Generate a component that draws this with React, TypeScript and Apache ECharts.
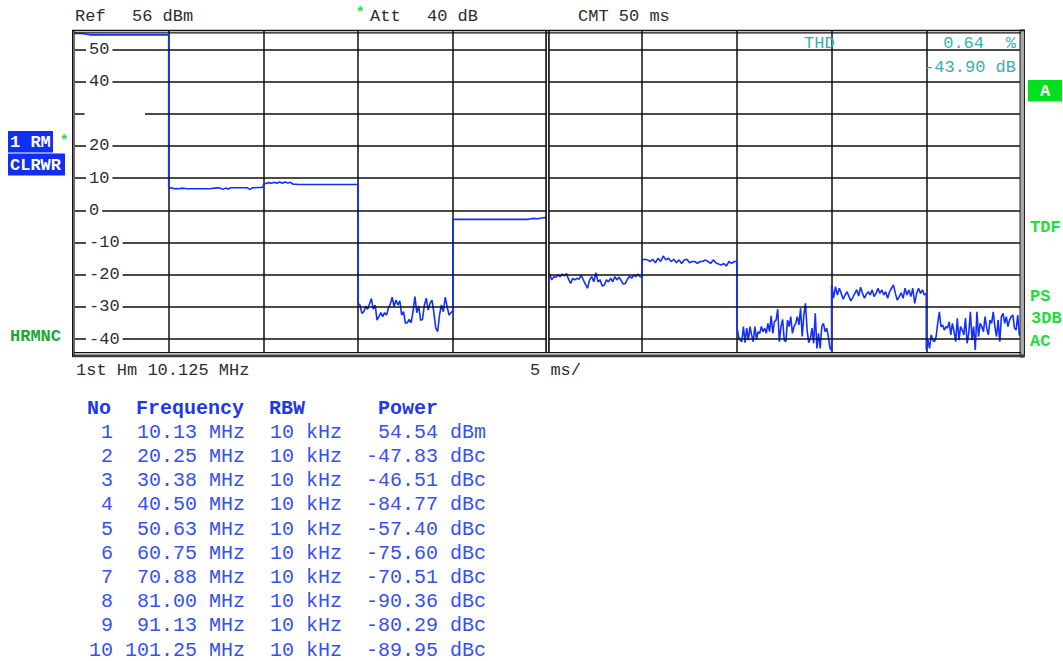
import React, { useEffect, useRef } from "react";
import * as echarts from "echarts";

// ---------- data ----------
const SEG_MS = 5; // each harmonic occupies one 5 ms division
const xTickInterval = 5;
const xMin = 0;
const xMax = 50;
const yMin = -44;
const yMax = 56;

const yGridValues = [50, 40, 30, 20, 10, 0, -10, -20, -30, -40];
const yLabelValues = [50, 40, 20, 10, 0, -10, -20, -30, -40];

// trace level (dBm) for each harmonic segment
const seg1 = [54.9, 54.9, 54.5, 54.5, 54.5, 54.5, 54.5, 54.5, 54.5, 54.5, 54.5, 54.5, 54.5];
const seg2 = [6.8, 7.0, 6.7, 6.8, 6.7, 6.9, 6.8, 6.7, 6.7, 6.7, 6.7, 6.7, 6.7, 6.7, 6.7, 6.7, 6.8, 6.9, 7.0, 6.9, 6.5, 6.9, 6.6, 7.0, 7.0, 7.0, 7.0, 7.0, 7.0, 7.0, 6.5, 7.0, 7.0, 7.1, 7.1, 7.2];
const seg3 = [8.0, 8.4, 8.6, 8.4, 8.7, 8.4, 8.8, 8.4, 8.8, 8.5, 8.7, 8.1, 8.1, 8.0, 8.0, 8.0, 8.0, 8.0, 8.0, 8.0, 8.0, 8.0, 8.0, 8.0, 8.0, 8.0, 8.0, 8.0, 8.0, 8.0, 8.0, 8.0, 8.0, 8.0, 8.0, 8.0];
const seg4 = [-28.9, -29.4, -32.0, -31.5, -29.9, -30.7, -29.1, -27.4, -30.7, -29.4, -34.1, -33.0, -31.8, -33.0, -31.8, -32.5, -30.4, -29.1, -27.0, -29.9, -27.9, -29.4, -28.1, -32.5, -31.5, -35.1, -34.9, -33.9, -34.9, -31.5, -26.8, -31.8, -29.7, -34.1, -33.9, -29.4, -27.3, -31.0, -28.9, -27.9, -31.8, -36.6, -37.7, -32.5, -29.4, -31.5, -27.0, -29.9, -32.5, -31.8, -31.2];
const seg5 = [-2.8, -2.8, -2.8, -2.8, -2.8, -2.8, -2.8, -2.8, -2.8, -2.8, -2.8, -2.8, -2.8, -2.8, -2.8, -2.8, -2.8, -2.5, -2.6, -2.3, -2.2];
const seg6 = [-20.1, -19.8, -21.6, -20.6, -20.8, -20.1, -20.6, -19.8, -20.4, -19.6, -21.4, -22.7, -21.1, -21.6, -21.1, -21.4, -20.1, -21.6, -22.9, -24.2, -21.6, -20.6, -22.2, -19.4, -22.2, -21.6, -23.5, -23.2, -21.6, -22.2, -21.1, -22.2, -20.6, -21.6, -20.8, -21.8, -22.9, -22.7, -21.4, -20.4, -21.1, -20.1, -20.6, -19.8, -20.6, -20.8];
const seg7 = [-15.4, -15.2, -15.4, -15.9, -15.2, -16.3, -14.9, -15.9, -14.2, -15.4, -14.9, -15.9, -15.2, -16.3, -15.4, -16.5, -15.4, -15.2, -16.3, -15.9, -15.9, -16.5, -15.9, -15.9, -15.4, -15.9, -16.5, -15.4, -16.3, -16.7, -17.0, -16.5, -17.3, -15.9, -16.5, -15.9, -15.9];
const seg8 = [-36.1, -39.2, -40.3, -40.8, -36.1, -41.1, -36.6, -40.3, -36.1, -38.7, -40.8, -36.1, -40.1, -37.7, -38.2, -36.1, -37.7, -36.6, -38.2, -35.1, -37.7, -32.8, -38.2, -34.6, -34.1, -30.7, -40.8, -36.1, -33.9, -40.3, -40.8, -34.1, -36.1, -33.0, -38.2, -36.1, -35.1, -33.0, -35.6, -30.4, -39.2, -32.5, -28.9, -37.2, -41.1, -39.8, -36.6, -41.3, -32.0, -42.9, -38.2, -42.9, -36.1, -35.1, -37.7, -36.6, -39.2, -42.9, -43.4];
const seg9 = [-23.2, -27.3, -23.7, -26.3, -24.2, -25.8, -27.6, -26.3, -25.3, -26.8, -28.1, -27.0, -25.8, -24.7, -26.6, -23.9, -25.8, -27.3, -26.0, -25.3, -26.3, -24.7, -26.8, -25.8, -24.2, -25.8, -24.7, -26.3, -25.3, -27.3, -25.3, -24.2, -23.2, -25.8, -27.9, -26.8, -25.6, -27.3, -24.2, -26.3, -24.7, -26.8, -24.2, -28.9, -25.8, -24.2, -25.8, -24.7, -26.3, -25.8];
const seg10 = [-43.4, -40.3, -42.9, -38.7, -40.3, -40.8, -39.2, -35.1, -31.5, -36.1, -35.6, -37.2, -36.1, -36.6, -34.6, -38.7, -35.1, -37.7, -40.8, -33.5, -40.3, -36.1, -37.2, -38.7, -33.5, -41.3, -38.2, -31.5, -40.3, -36.1, -43.4, -31.5, -39.2, -35.1, -36.1, -37.7, -33.0, -36.6, -38.7, -34.1, -35.1, -31.5, -36.1, -39.2, -34.1, -40.8, -33.0, -32.0, -35.1, -33.0, -36.1, -34.1, -33.0, -32.5, -36.6, -37.2, -32.5, -38.7, -39.2];
const segments = [seg1, seg2, seg3, seg4, seg5, seg6, seg7, seg8, seg9, seg10];

// harmonic table
const harmonicNo = ["1", "2", "3", "4", "5", "6", "7", "8", "9", "10"];
const harmonicFreq = ["10.13", "20.25", "30.38", "40.50", "50.63", "60.75", "70.88", "81.00", "91.13", "101.25"];
const harmonicRbw = ["10 kHz", "10 kHz", "10 kHz", "10 kHz", "10 kHz", "10 kHz", "10 kHz", "10 kHz", "10 kHz", "10 kHz"];
const harmonicPower = ["54.54", "-47.83", "-46.51", "-84.77", "-57.40", "-75.60", "-70.51", "-90.36", "-80.29", "-89.95"];
const harmonicUnit = ["dBm", "dBc", "dBc", "dBc", "dBc", "dBc", "dBc", "dBc", "dBc", "dBc"];
const tableHeader = ["No", "Frequency", "RBW", "Power"];

// ---------- styles ----------
const MONO = "'Liberation Mono', 'DejaVu Sans Mono', monospace";
const GRAY_TXT = "#2e2e2e";
const TEAL = "#3aaeae";
const BLUE_TABLE = "#3650f2";
const BLUE_HEAD = "#1f38e8";
const GREEN = "#22dd3a";
const GREEN_DARK = "#1aa832";
const BLUE_BOX = "#0f2ff2";

function txt(x: number, y: number, text: string, o: any = {}) {
  return {
    type: "text",
    x,
    y,
    z: 100,
    silent: true,
    style: {
      text,
      fill: o.fill ?? GRAY_TXT,
      fontFamily: MONO,
      fontSize: o.size ?? 17,
      fontWeight: o.bold ? "bold" : "normal",
      textAlign: o.align ?? "left",
      align: o.align ?? "left",
      textVerticalAlign: "middle",
      verticalAlign: "middle",
    },
  };
}
function line(x1: number, y1: number, x2: number, y2: number, stroke: string, lineWidth: number) {
  return { type: "line", z: 100, silent: true, shape: { x1, y1, x2, y2 }, style: { stroke, lineWidth } };
}
function rect(x: number, y: number, width: number, height: number, fill: string, stroke?: string) {
  return {
    type: "rect",
    z: 99,
    silent: true,
    shape: { x, y, width, height },
    style: stroke ? { fill, stroke, lineWidth: 1 } : { fill },
  };
}

export default function App() {
  const ref = useRef<HTMLDivElement>(null);

  useEffect(() => {
    if (!ref.current) return;
    const chart = echarts.init(ref.current, undefined, { renderer: "svg" });

    const trace: number[][] = [];
    segments.forEach((vals, k) => {
      const n = vals.length;
      vals.forEach((v, i) => trace.push([k * SEG_MS + (i * SEG_MS) / (n - 1), v]));
    });

    const graphic: any[] = [];
    // header texts
    graphic.push(txt(75, 16, "Ref"));
    graphic.push(txt(132, 16, "56 dBm"));
    graphic.push(txt(356, 13, "*", { fill: GREEN, size: 14, bold: true }));
    graphic.push(txt(370, 16, "Att"));
    graphic.push(txt(427, 16, "40 dB"));
    graphic.push(txt(578, 16, "CMT 50 ms"));
    // bottom of diagram
    graphic.push(txt(76, 370, "1st Hm 10.125 MHz"));
    graphic.push(txt(530, 370, "5 ms/"));
    // THD readout
    graphic.push(txt(804, 43, "THD", { fill: TEAL }));
    graphic.push(txt(984, 43, "0.64", { fill: TEAL, align: "right" }));
    graphic.push(txt(1016, 43, "%", { fill: TEAL, align: "right" }));
    graphic.push(txt(1016, 67, "-43.90 dB", { fill: TEAL, align: "right" }));
    // left side labels
    graphic.push(rect(8, 131, 45, 21.5, BLUE_BOX));
    graphic.push(txt(10, 142, "1 RM", { fill: "#fff", bold: true, size: 17 }));
    graphic.push(txt(60, 141, "*", { fill: GREEN, bold: true, size: 14 }));
    graphic.push(rect(8, 153.5, 57, 22, BLUE_BOX));
    graphic.push(txt(10, 165, "CLRWR", { fill: "#fff", bold: true, size: 17 }));
    graphic.push(txt(10, 336, "HRMNC", { fill: GREEN_DARK, bold: true, size: 17 }));
    // right side labels
    graphic.push(rect(1028, 80, 34, 21.5, "#00e01e"));
    graphic.push(txt(1045, 91, "A", { fill: "#fff", bold: true, size: 17, align: "center" }));
    graphic.push(txt(1030, 227, "TDF", { fill: GREEN, bold: true, size: 17 }));
    graphic.push(txt(1030, 296, "PS", { fill: GREEN, bold: true, size: 17 }));
    graphic.push(txt(1031, 318, "3DB", { fill: GREEN, bold: true, size: 17 }));
    graphic.push(txt(1030, 341, "AC", { fill: GREEN, bold: true, size: 17 }));
    // gap in the 30 dB line
    graphic.push(rect(84.5, 111.5, 60.5, 4.5, "#ffffff"));
    // frame
    graphic.push(line(72, 30.5, 1025, 30.5, "#111", 1.5));
    graphic.push(line(74, 32.8, 1021, 32.8, "#111", 1.2));
    graphic.push(rect(72, 30, 3, 327, "#6a6a6a"));
    graphic.push(line(72.5, 30, 72.5, 357, "#111", 1));
    graphic.push(rect(1020, 30, 4.5, 327, "#a8a8a8", "#222"));
    graphic.push(line(74, 352.7, 1021, 352.7, "#111", 1.2));
    graphic.push(rect(72, 354.5, 953, 2.8, "#3a3a3a"));

    // table
    const rowY0 = 432.3;
    const rowStep = 24.2;
    graphic.push(txt(87, 408, tableHeader[0], { fill: BLUE_HEAD, bold: true, size: 20 }));
    graphic.push(txt(136, 408, tableHeader[1], { fill: BLUE_HEAD, bold: true, size: 20 }));
    graphic.push(txt(269, 408, tableHeader[2], { fill: BLUE_HEAD, bold: true, size: 20 }));
    graphic.push(txt(378, 408, tableHeader[3], { fill: BLUE_HEAD, bold: true, size: 20 }));
    harmonicNo.forEach((no, i) => {
      const y = rowY0 + i * rowStep;
      graphic.push(txt(113, y, no, { fill: BLUE_TABLE, size: 20, align: "right" }));
      graphic.push(txt(197, y, harmonicFreq[i], { fill: BLUE_TABLE, size: 20, align: "right" }));
      graphic.push(txt(209, y, "MHz", { fill: BLUE_TABLE, size: 20 }));
      graphic.push(txt(270, y, harmonicRbw[i], { fill: BLUE_TABLE, size: 20 }));
      graphic.push(txt(438, y, harmonicPower[i], { fill: BLUE_TABLE, size: 20, align: "right" }));
      graphic.push(txt(450, y, harmonicUnit[i], { fill: BLUE_TABLE, size: 20 }));
    });

    chart.setOption({
      animation: false,
      backgroundColor: "#ffffff",
      grid: { left: 74, top: 30, width: 947, height: 322, containLabel: false },
      xAxis: {
        type: "value",
        min: xMin,
        max: xMax,
        interval: xTickInterval,
        axisLine: { show: false },
        axisTick: { show: false },
        axisLabel: { show: false },
        splitLine: { show: true, lineStyle: { color: "#111", width: 1.5 } },
      },
      yAxis: {
        type: "value",
        min: yMin,
        max: yMax,
        z: 5,
        axisLine: { show: false },
        axisTick: { show: false },
        splitLine: { show: false },
        axisLabel: {
          inside: true,
          margin: 12,
          customValues: yLabelValues,
          color: GRAY_TXT,
          fontFamily: MONO,
          fontSize: 17,
          backgroundColor: "#ffffff",
          padding: [1, 3, 0, 3],
        },
      },
      series: [
        {
          type: "line",
          data: [],
          z: 1,
          silent: true,
          markLine: {
            silent: true,
            symbol: ["none", "none"],
            label: { show: false },
            lineStyle: { color: "#111", width: 1.5, type: "solid" },
            data: [
              ...yGridValues.map((v) => ({ yAxis: v })),
              { xAxis: 25, lineStyle: { color: "#111", width: 4.5, type: "solid" } },
              { xAxis: 25, lineStyle: { color: "#ffffff", width: 1.2, type: "solid" } },
            ],
          },
        },
        {
          type: "line",
          data: trace,
          z: 3,
          silent: true,
          showSymbol: false,
          symbol: "none",
          lineStyle: { color: "#1430ff", width: 1.6 },
        },
      ],
      graphic,
    });

    return () => chart.dispose();
  }, []);

  return (
    <div
      ref={ref}
      style={{ position: "fixed", left: 0, top: 0, width: 1063, height: 661, background: "#fff" }}
    />
  );
}
